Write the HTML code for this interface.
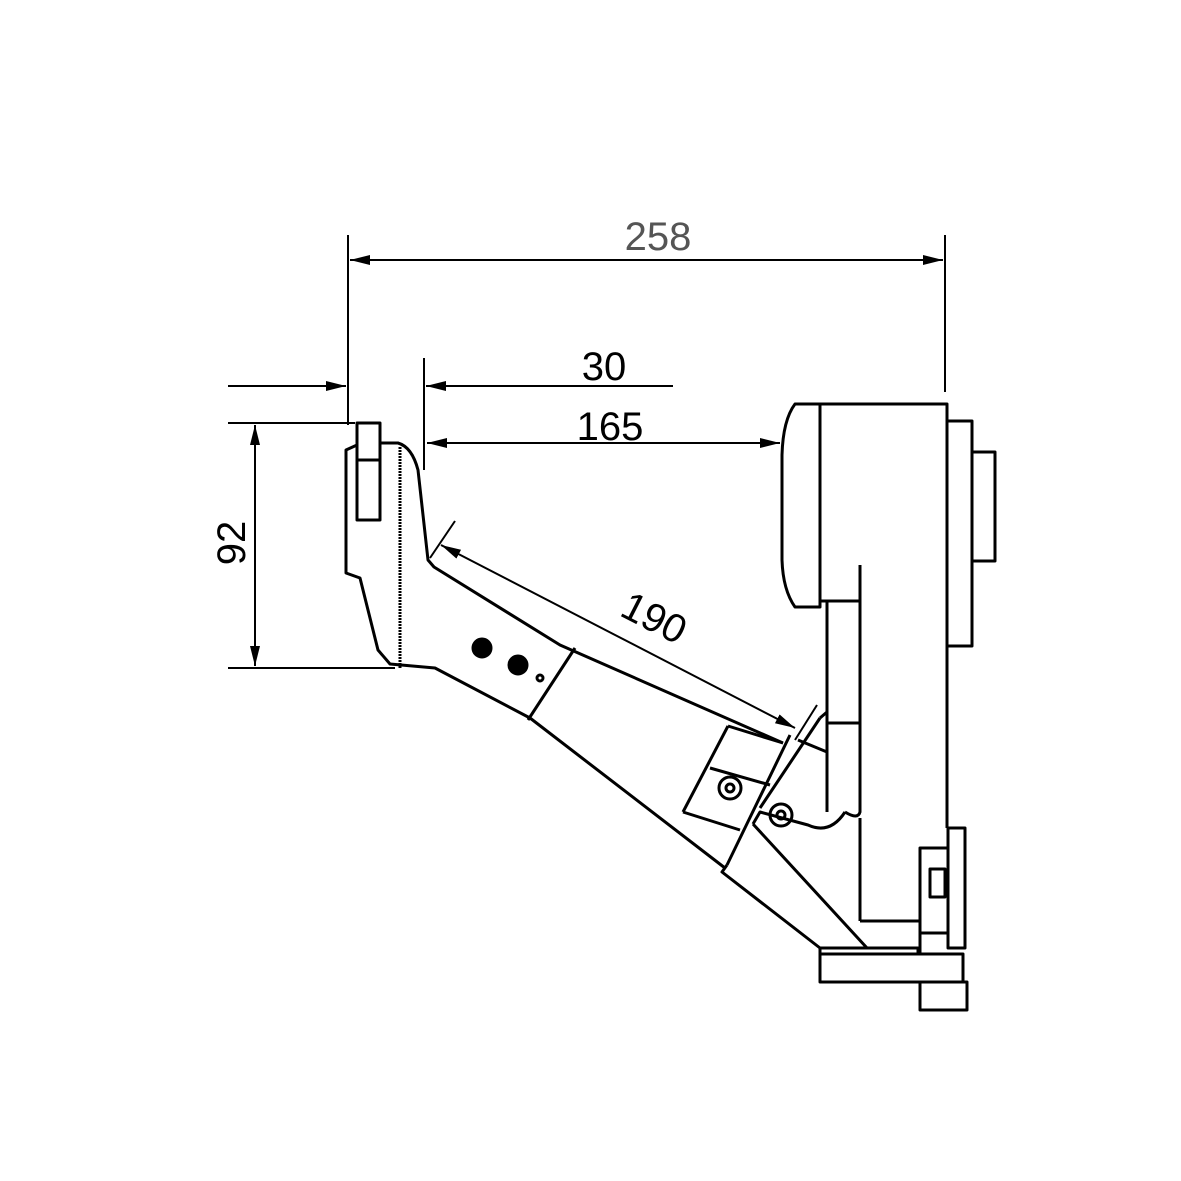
<!DOCTYPE html>
<html><head><style>html,body{margin:0;padding:0;background:#fff}svg{display:block}</style></head>
<body>
<svg width="1181" height="1181" viewBox="0 0 1181 1181" xmlns="http://www.w3.org/2000/svg">
<defs>
<marker id="a" viewBox="0 0 20 10" refX="20" refY="5" markerWidth="20" markerHeight="10" markerUnits="userSpaceOnUse" orient="auto-start-reverse"><path d="M0,0 L20,5 L0,10 z" fill="#000"/></marker>
</defs>
<g stroke="#000" fill="none" stroke-width="2">
<!-- extension lines -->
<line x1="348" y1="235" x2="348" y2="425"/>
<line x1="945" y1="235" x2="945" y2="392"/>
<line x1="424" y1="358" x2="424" y2="470"/>
<line x1="228" y1="423" x2="355" y2="423"/>
<line x1="228" y1="668" x2="395" y2="668"/>
<!-- 258 -->
<line x1="350" y1="260" x2="943" y2="260" marker-start="url(#a)" marker-end="url(#a)"/>
<!-- 30 -->
<line x1="228" y1="386" x2="346" y2="386" marker-end="url(#a)"/>
<line x1="673" y1="386" x2="426" y2="386" marker-end="url(#a)"/>
<!-- 165 -->
<line x1="427" y1="443" x2="780" y2="443" marker-start="url(#a)" marker-end="url(#a)"/>
<!-- 92 -->
<line x1="255" y1="425" x2="255" y2="666" marker-start="url(#a)" marker-end="url(#a)"/>
<!-- 190 -->
<line x1="441" y1="545" x2="795" y2="728" marker-start="url(#a)" marker-end="url(#a)"/>
<line x1="430" y1="558" x2="455" y2="521"/>
<line x1="795" y1="740" x2="817" y2="705"/>
</g>
<g stroke="#000" fill="none" stroke-width="3" stroke-linejoin="round">
<!-- left part -->
<rect x="357" y="423" width="23" height="97"/>
<line x1="357" y1="460" x2="380" y2="460"/>
<path d="M357,445 L346,450 L346,573 L360,578 L378,650 L390,664 L435,668 L530,718 L725,868"/>
<path d="M380,443 L398,443 Q412,447 418,470 L428,560 L434,567 L560,645 L783,743"/>
<line x1="400" y1="447" x2="400" y2="668" stroke-dasharray="2 1"/>
<line x1="575" y1="648" x2="528" y2="720"/>
<line x1="728" y1="726" x2="683" y2="812"/>
<line x1="728" y1="726" x2="783" y2="743"/>
<line x1="710" y1="768" x2="770" y2="785"/>
<line x1="683" y1="812" x2="740" y2="830"/>
<line x1="790" y1="735" x2="727" y2="865"/>
<path d="M727,865 L722,872 L820,948"/>
<path d="M753,824 L760,812 L808,825 Q830,835 845,812"/>
<line x1="753" y1="824" x2="867" y2="948"/>
<line x1="760" y1="808" x2="820" y2="718"/>
<line x1="820" y1="718" x2="827" y2="712"/>
<path d="M798,740 L827,752"/>
<!-- right body -->
<path d="M795,404 L820,404 L820,607 L795,607 Q783,590 782,560 L782,455 Q783,420 795,404 Z"/>
<path d="M820,404 L947,404 L947,828"/>
<path d="M820,404 L820,601 L827,601 L827,812"/>
<path d="M860,565 L860,812 Q858,820 845,812"/>
<rect x="827" y="601" width="33" height="122"/>
<line x1="827" y1="723" x2="860" y2="723"/>
<rect x="947" y="421" width="25" height="225"/>
<rect x="972" y="452" width="23" height="109"/>
<line x1="860" y1="818" x2="860" y2="921"/>
<line x1="860" y1="921" x2="920" y2="921"/>
<rect x="948" y="828" width="17" height="120"/>
<rect x="920" y="848" width="28" height="85"/>
<rect x="930" y="869" width="15" height="28"/>
<rect x="820" y="948" width="98" height="6"/>
<rect x="820" y="954" width="143" height="28"/>
<rect x="920" y="982" width="47" height="28"/>
<line x1="920" y1="933" x2="920" y2="954"/>
<!-- bolts -->
<circle cx="482" cy="648" r="9" fill="#000"/>
<circle cx="518" cy="665" r="9" fill="#000"/>
<circle cx="540" cy="678" r="3"/>
<circle cx="730" cy="788" r="11"/><circle cx="730" cy="788" r="4"/>
<circle cx="781" cy="815" r="11"/><circle cx="781" cy="815" r="4"/>
</g>
<g font-family="Liberation Sans, sans-serif" font-size="40" text-anchor="middle">
<text x="658" y="250" fill="#555">258</text>
<text x="604" y="380">30</text>
<text x="610" y="440">165</text>
<text transform="translate(245,543) rotate(-90)">92</text>
<text transform="translate(648,630) rotate(27)">190</text>
</g>
</svg>
</body></html>
